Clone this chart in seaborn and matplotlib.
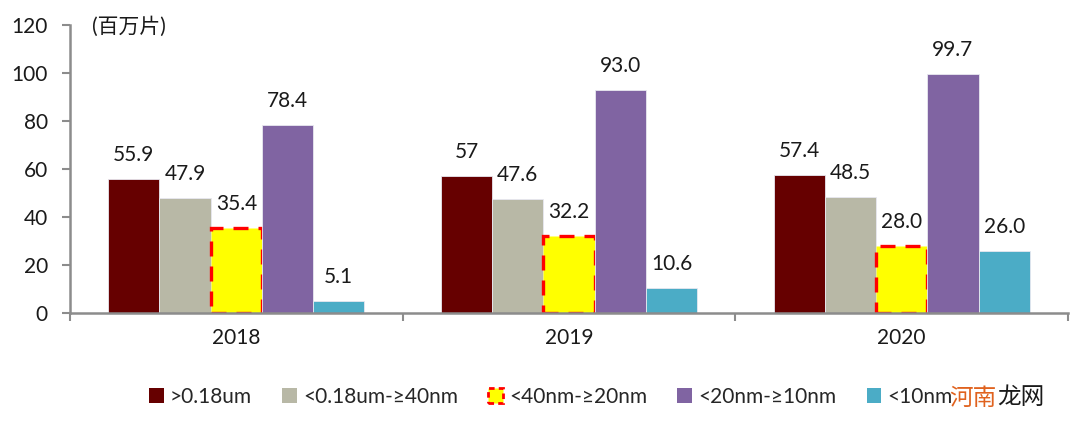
import matplotlib
matplotlib.use("Agg")
import matplotlib.pyplot as plt
import seaborn as sns
import pandas as pd
from matplotlib.patches import Patch

years = ["2018", "2019", "2020"]
series = [">0.18um", "<0.18um-≥40nm", "<40nm-≥20nm", "<20nm-≥10nm", "<10nm"]
v_gt018 = [55.9, 57.0, 57.4]
v_018_40 = [47.9, 47.6, 48.5]
v_40_20 = [35.4, 32.2, 28.0]
v_20_10 = [78.4, 93.0, 99.7]
v_lt10 = [5.1, 10.6, 26.0]
value_labels = [["55.9", "57", "57.4"], ["47.9", "47.6", "48.5"], ["35.4", "32.2", "28.0"],
                ["78.4", "93.0", "99.7"], ["5.1", "10.6", "26.0"]]
colors = ["#660000", "#B8B8A6", "#FFFF00", "#8064A2", "#4BACC6"]
yticks = [0, 20, 40, 60, 80, 100, 120]
unit_label = "(百万片)"

all_vals = [v_gt018, v_018_40, v_40_20, v_20_10, v_lt10]
rows = []
for s, vals in zip(series, all_vals):
    for y, v in zip(years, vals):
        rows.append({"year": y, "series": s, "value": v})
df = pd.DataFrame(rows)

sns.set_theme(style="white")
fams = ["Lato", "Noto Sans CJK SC", "DejaVu Sans"]
plt.rcParams["font.family"] = fams
FS = 15

fig = plt.figure(figsize=(10.8, 4.21), dpi=100)
ax = fig.add_axes([70 / 1080, 1 - 313 / 421, 998 / 1080, 288 / 421])

sns.barplot(data=df, x="year", y="value", hue="series", hue_order=series,
            palette=colors, width=0.77, ax=ax, legend=False, saturation=1,
            edgecolor="#e8e8f0", linewidth=0.6)

for i, cont in enumerate(ax.containers):
    if i == 2:
        for p in cont:
            p.set_edgecolor("#FF0000")
            p.set_linewidth(2.4)
            p.set_linestyle((0, (4.5, 3)))
    ax.bar_label(cont, labels=value_labels[i], padding=10, fontsize=FS,
                 color="#1a1a1a", family=fams)

ax.set_ylim(0, 120)
ax.set_xlim(-0.5, 2.5)
ax.set_yticks(yticks)
ax.set_yticklabels([str(t) for t in yticks], fontsize=FS, color="#1a1a1a")
ax.set_xticks([-0.5, 0.5, 1.5, 2.5])
ax.set_xticklabels([])
ax.set_xticks([0, 1, 2], minor=True)
ax.set_xticklabels(years, minor=True, fontsize=FS, color="#1a1a1a")
ax.tick_params(axis="x", which="major", direction="out", length=6, width=1.5,
               color="#8c8c8c", bottom=True)
ax.tick_params(axis="x", which="minor", length=0, pad=11)
ax.tick_params(axis="y", direction="out", length=6, width=1.5, color="#8c8c8c",
               left=True, pad=10)
ax.set_xlabel("")
ax.set_ylabel("")
for side in ["top", "right"]:
    ax.spines[side].set_visible(False)
for side in ["left", "bottom"]:
    ax.spines[side].set_color("#8c8c8c")
    ax.spines[side].set_linewidth(1.8)

ax.text(0.022, 0.995, unit_label, transform=ax.transAxes, fontsize=FS,
        color="#1a1a1a", va="center", ha="left", family=fams)

handles = []
for i, (s, c) in enumerate(zip(series, colors)):
    if i == 2:
        handles.append(Patch(facecolor=c, edgecolor="#FF0000", linewidth=2.0,
                             linestyle=(0, (2, 1.5)), label=s))
    else:
        handles.append(Patch(facecolor=c, edgecolor="none", label=s))
fig.legend(handles=handles, loc="center", bbox_to_anchor=(0.51, 1 - 397 / 421),
           ncol=5, frameon=False, handlelength=0.7, handleheight=0.7,
           handletextpad=0.3, columnspacing=1.45, prop={"family": fams, "size": FS})

fig.text(949 / 1080, 1 - 398 / 421, "河南", color="#E0621E", fontsize=17,
         family=["Noto Sans CJK SC"], va="center", ha="left")
fig.text(997 / 1080, 1 - 398 / 421, "龙网", color="#1a1a1a", fontsize=17,
         family=["Noto Sans CJK SC"], va="center", ha="left")

fig.savefig("out.png", dpi=100)
